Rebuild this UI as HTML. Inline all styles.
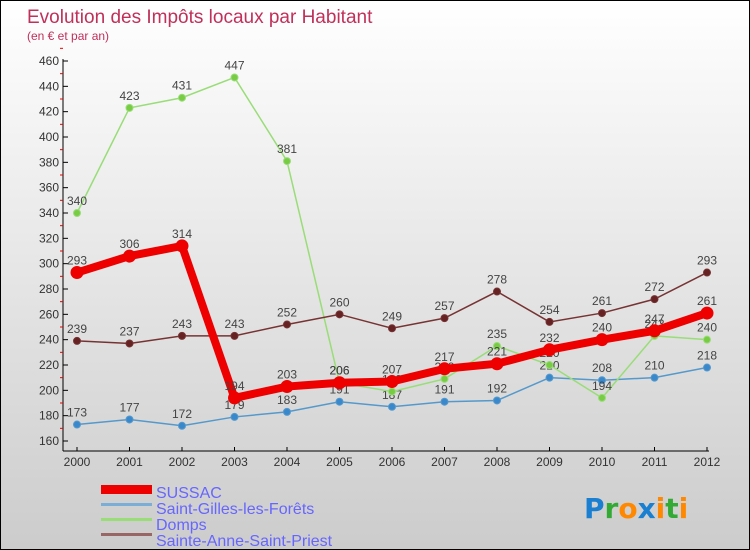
<!DOCTYPE html>
<html><head><meta charset="utf-8"><style>
body{margin:0}
#c{position:relative;width:748px;height:548px;border:1px solid #000;background:linear-gradient(#ffffff,#cccccc);font-family:"Liberation Sans",sans-serif;overflow:hidden}
svg{position:absolute;left:0;top:0}
</style></head><body>
<div id="c">
<svg id="s" width="748" height="548">
<text x="26" y="22" font-size="19" fill="#c0305a">Evolution des Impôts locaux par Habitant</text>
<text x="26" y="39" font-size="12" fill="#c0305a">(en € et par an)</text>
<g id="g"></g>
<text x="155" y="497" font-size="16" fill="#6666ff">SUSSAC</text>
<text x="155" y="513" font-size="16" fill="#6666ff">Saint-Gilles-les-Forêts</text>
<text x="155" y="529" font-size="16" fill="#6666ff">Domps</text>
<text x="155" y="545" font-size="16" fill="#6666ff">Sainte-Anne-Saint-Priest</text>
<rect x="100" y="484" width="51" height="9" fill="#ee0000"/>
<rect x="100" y="502" width="51" height="3" fill="#7aaed6"/>
<rect x="100" y="517" width="51" height="3" fill="#99dd77"/>
<rect x="100" y="532" width="51" height="3" fill="#996666"/>
<text x="583" y="517" font-size="28" font-weight="bold" font-family="DejaVu Sans, sans-serif"><tspan fill="#1a7fd0">P</tspan><tspan fill="#33aa33">r</tspan><tspan fill="#ff8800">o</tspan><tspan fill="#1a7fd0">x</tspan><tspan fill="#ff8800">i</tspan><tspan fill="#33aa33">t</tspan><tspan fill="#ff8800">i</tspan></text>
</svg>
</div>
<script>
const years=["2000","2001","2002","2003","2004","2005","2006","2007","2008","2009","2010","2011","2012"];
const yTicks=[160,180,200,220,240,260,280,300,320,340,360,380,400,420,440,460];
const sussac=[293,306,314,194,203,206,207,217,221,232,240,247,261];
const stGilles=[173,177,172,179,183,191,187,191,192,210,208,210,218];
const domps=[340,423,431,447,381,206,199,209,235,220,194,243,240];
const steAnne=[239,237,243,243,252,260,249,257,278,254,261,272,293];
const NS="http://www.w3.org/2000/svg";
const g=document.getElementById('g');
const X=i=>76+i*52.5;
const Y=v=>440-(v-160)*380/300;
function el(t,a,name){const e=document.createElementNS(NS,t);for(const k in a)e.setAttribute(k,a[k]);


g.appendChild(e);return e;}
el('line',{x1:62,y1:58,x2:62,y2:450,stroke:'#000'},'y-axis');
el('line',{x1:62,y1:450,x2:708,y2:450,stroke:'#000'},'x-axis');
yTicks.forEach(v=>{el('line',{x1:62,y1:Y(v),x2:67,y2:Y(v),stroke:'#000'},'y-tick');
el('line',{x1:59,y1:Y(v+10),x2:62,y2:Y(v+10),stroke:'#e00'},'y-minor-tick');
const t=el('text',{x:58,y:Y(v)+4,'font-size':12,fill:'#333','text-anchor':'end'},'y-tick-label');t.textContent=v;});
years.forEach((y,i)=>{el('line',{x1:X(i),y1:446,x2:X(i),y2:450,stroke:'#000'},'x-tick');
const t=el('text',{x:X(i),y:465,'font-size':12,fill:'#333','text-anchor':'middle'},'x-tick-label');t.textContent=y;});
function series(d,col,w,r,fill,name){
el('polyline',{points:d.map((v,i)=>X(i)+','+Y(v)).join(' '),fill:'none',stroke:col,'stroke-width':w},name+'-line');
d.forEach((v,i)=>{el('circle',{cx:X(i),cy:Y(v),r:r,fill:fill,stroke:col},name+'-point');
const t=el('text',{x:X(i),y:Y(v)-8,'font-size':12,fill:'#444','text-anchor':'middle'},name+'-value');t.textContent=v;});}
series(stGilles,'#5599cc',1.5,3.5,'#3a88cc','saint-gilles');
series(domps,'#99dd77',1.5,3.5,'#77cc44','domps');
series(steAnne,'#773333',1.5,3.5,'#662222','sainte-anne');
series(sussac,'#ee0000',8,6,'#ee0000','sussac');
</script>
</body></html>
